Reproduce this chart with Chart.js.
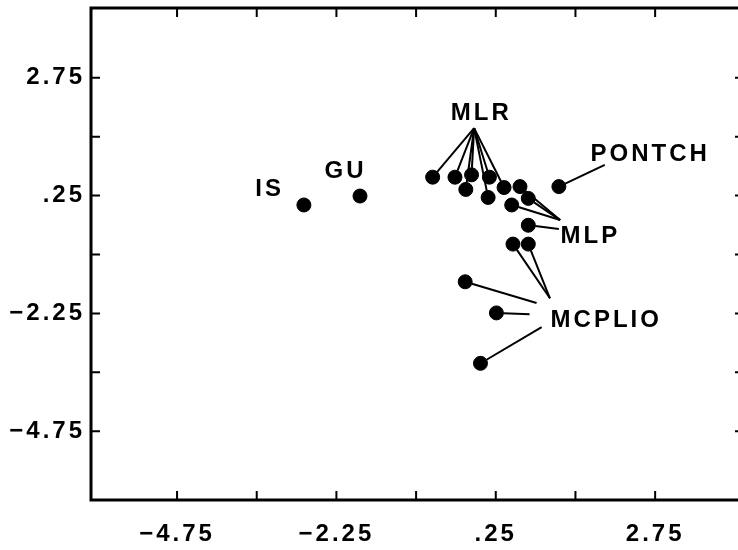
<!DOCTYPE html>
<html>
<head>
<meta charset="utf-8">
<script src="https://cdn.jsdelivr.net/npm/chart.js@4.4.1/dist/chart.umd.min.js"></script>
<style>
  html, body { margin: 0; padding: 0; background: #fff; }
</style>
</head>
<body>
<canvas id="myChart" width="738" height="550"></canvas>
<script>
// site scores
const sites = ['IS', 'GU', 'MLR', 'MLR', 'MLR', 'MLR', 'MLR', 'MLR', 'MLR', 'MLP', 'MLP', 'MLP', 'MLP',
  'MCPLIO', 'MCPLIO', 'PONTCH', 'MCPLIO', 'MCPLIO', 'MCPLIO'];
const xScores = [-2.76, -1.88, -0.74, -0.39, -0.13, -0.22, 0.15, 0.13, 0.38, 0.63, 0.76, 0.50, 0.76,
  0.52, 0.76, 1.24, -0.23, 0.26, 0.01];
const yScores = [0.05, 0.24, 0.64, 0.64, 0.69, 0.38, 0.64, 0.21, 0.42, 0.44, 0.19, 0.05, -0.38,
  -0.78, -0.78, 0.44, -1.58, -2.24, -3.31];

// axis ticks (every other one labelled)
const xTicks = [-4.75, -3.5, -2.25, -1, 0.25, 1.5, 2.75];
const xTickLabels = ['\u22124.75', '', '\u22122.25', '', '.25', '', '2.75'];
const yTicks = [-4.75, -3.5, -2.25, -1, 0.25, 1.5, 2.75];
const yTickLabels = ['\u22124.75', '', '\u22122.25', '', '.25', '', '2.75'];

// text labels placed in data units, and leader lines from an anchor to point indexes
const callouts = [
  { text: 'IS', x: -3.32, y: 0.39 },
  { text: 'GU', x: -2.13, y: 0.77 },
  { text: 'MLR', x: 0.0, y: 2.0 },
  { text: 'PONTCH', x: 2.65, y: 1.13 },
  { text: 'MLP', x: 1.71, y: -0.61 },
  { text: 'MCPLIO', x: 1.96, y: -2.39 }
];
const leaders = [
  { from: [-0.09, 1.68], to: [2, 3, 4, 5, 6, 7, 8] },
  { from: [1.26, -0.27], to: [9, 10, 11] },
  { from: [1.24, -0.46], to: [12] },
  { from: [1.10, -1.93], to: [13, 14] },
  { from: [0.89, -2.03], to: [16] },
  { from: [0.78, -2.27], to: [17] },
  { from: [0.97, -2.54], to: [18] },
  { from: [1.96, 0.90], to: [15] }
];

const FONT = { family: 'Liberation Sans, Arial, Helvetica, sans-serif', size: 24, weight: 'bold' };
const SPACING = '3px';
const DOT = 7;

const spacing = {
  id: 'spacing',
  beforeLayout(chart) { chart.ctx.letterSpacing = SPACING; },
  beforeDraw(chart) { chart.ctx.letterSpacing = SPACING; }
};

// no extra room for overhanging tick labels
const fixBox = (s, w, h) => {
  if (w) s.width = w;
  if (h) s.height = h;
  s.paddingLeft = s.paddingRight = s.paddingTop = s.paddingBottom = 0;
};

const annotate = {
  id: 'annotate',
  beforeDatasetsDraw(chart) {
    const ctx = chart.ctx;
    const xs = chart.scales.x, ys = chart.scales.y;
    ctx.save();
    ctx.strokeStyle = '#000';
    ctx.lineWidth = 2;
    leaders.forEach(l => {
      const ax = xs.getPixelForValue(l.from[0]);
      const ay = ys.getPixelForValue(l.from[1]);
      l.to.forEach(i => {
        const px = xs.getPixelForValue(xScores[i]);
        const py = ys.getPixelForValue(yScores[i]);
        const d = Math.hypot(px - ax, py - ay);
        const k = (d - DOT) / d;
        ctx.beginPath();
        ctx.moveTo(ax, ay);
        ctx.lineTo(ax + (px - ax) * k, ay + (py - ay) * k);
        ctx.stroke();
      });
    });
    ctx.restore();
  },
  afterDatasetsDraw(chart) {
    const ctx = chart.ctx;
    const { left, right, top, bottom } = chart.chartArea;
    const xs = chart.scales.x, ys = chart.scales.y;
    ctx.save();
    ctx.strokeStyle = '#000';
    // frame
    ctx.lineWidth = 3;
    ctx.beginPath();
    ctx.moveTo(right + 2, top);
    ctx.lineTo(left, top);
    ctx.lineTo(left, bottom);
    ctx.lineTo(right + 2, bottom);
    ctx.stroke();
    // inward tick marks
    ctx.lineWidth = 2;
    ctx.beginPath();
    xTicks.forEach(v => {
      const x = xs.getPixelForValue(v);
      ctx.moveTo(x, bottom); ctx.lineTo(x, bottom - 9);
      ctx.moveTo(x, top); ctx.lineTo(x, top + 9);
    });
    yTicks.forEach(v => {
      const y = ys.getPixelForValue(v);
      ctx.moveTo(left, y); ctx.lineTo(left + 9, y);
      ctx.moveTo(right, y); ctx.lineTo(right - 3, y);
    });
    ctx.stroke();
    // text labels
    ctx.fillStyle = '#000';
    ctx.font = `${FONT.weight} ${FONT.size}px ${FONT.family}`;
    ctx.letterSpacing = SPACING;
    ctx.textAlign = 'center';
    ctx.textBaseline = 'middle';
    callouts.forEach(c => {
      ctx.fillText(c.text, xs.getPixelForValue(c.x) + 1.5, ys.getPixelForValue(c.y));
    });
    ctx.restore();
  }
};

new Chart(document.getElementById('myChart'), {
  type: 'scatter',
  data: {
    datasets: [{
      label: 'sites',
      data: xScores.map((x, i) => ({ x: x, y: yScores[i], site: sites[i] })),
      backgroundColor: '#000',
      borderColor: '#000',
      pointRadius: DOT,
      pointHoverRadius: DOT
    }]
  },
  options: {
    responsive: false,
    animation: false,
    devicePixelRatio: 1,
    layout: { autoPadding: false, padding: { top: 8, right: 0, left: 0, bottom: 0 } },
    plugins: { legend: { display: false }, tooltip: { enabled: false } },
    scales: {
      x: {
        type: 'linear',
        min: -6.10,
        max: 4.05,
        afterBuildTicks: s => { s.ticks = xTicks.map(v => ({ value: v })); },
        afterFit: s => fixBox(s, 0, 50),
        grid: { display: false, drawTicks: false },
        border: { display: false },
        ticks: {
          autoSkip: false,
          maxRotation: 0,
          padding: 20,
          color: '#000',
          font: FONT,
          callback: (v, i) => xTickLabels[i]
        }
      },
      y: {
        type: 'linear',
        min: -6.21,
        max: 4.23,
        afterBuildTicks: s => { s.ticks = yTicks.map(v => ({ value: v })); },
        afterFit: s => fixBox(s, 91, 0),
        grid: { display: false, drawTicks: false },
        border: { display: false },
        ticks: {
          autoSkip: false,
          padding: 6,
          color: '#000',
          font: FONT,
          callback: (v, i) => yTickLabels[i]
        }
      }
    }
  },
  plugins: [spacing, annotate]
});
</script>
</body>
</html>
